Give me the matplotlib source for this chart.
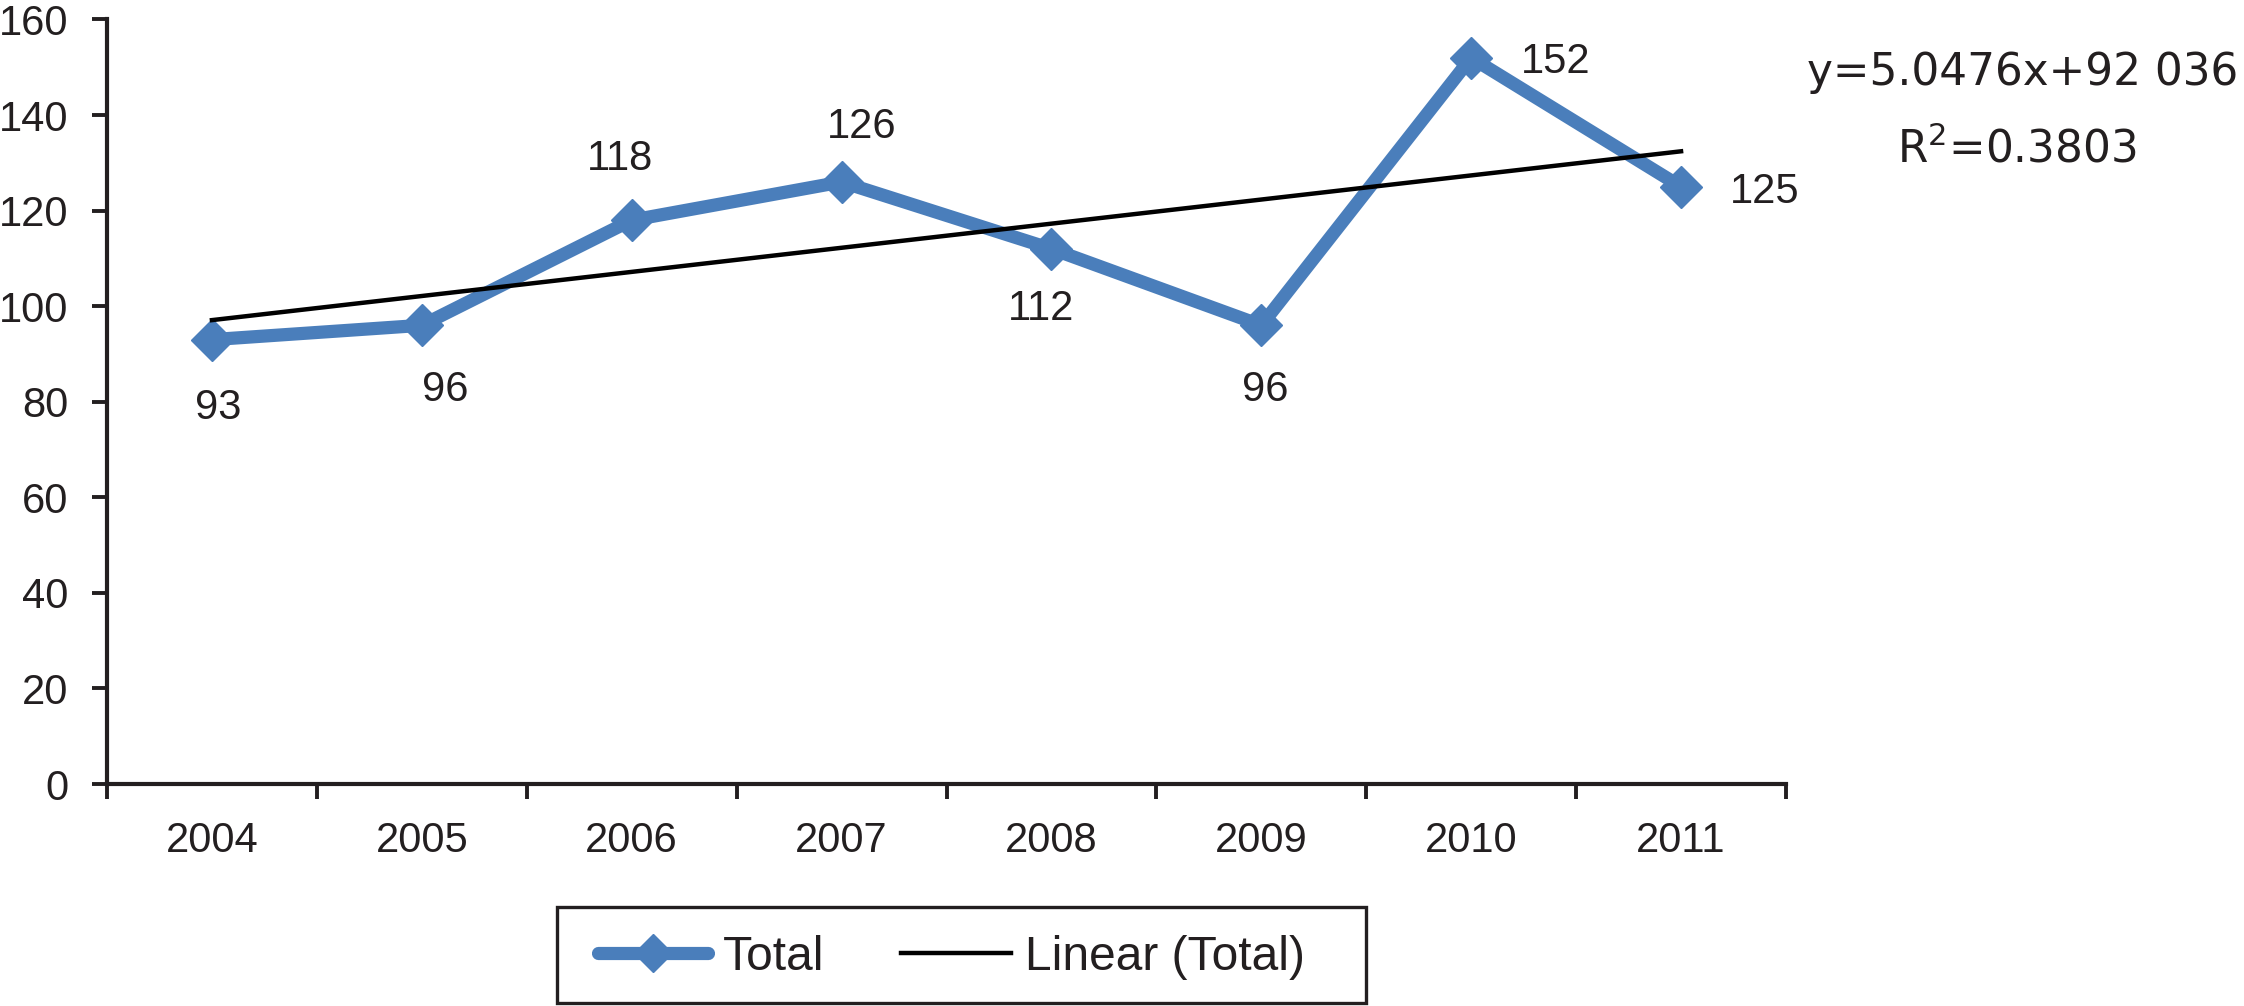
import numpy as np
import matplotlib
matplotlib.use("Agg")
import matplotlib.pyplot as plt
from matplotlib.patches import Rectangle
from matplotlib.lines import Line2D

# ---------------- data ----------------
years = ["2004", "2005", "2006", "2007", "2008", "2009", "2010", "2011"]
totals = [93, 96, 118, 126, 112, 96, 152, 125]
y_ticks = [0, 20, 40, 60, 80, 100, 120, 140, 160]
series_label = "Total"
trend_label = "Linear (Total)"
equation_lines = ["y=5.0476x+92 036", r"R$^2$=0.3803"]

# label offsets (pixels, x right / y up) for the data labels
label_offsets_px = [(6, -68), (23, -65), (-12, 61), (20, 55),
                    (-10, -60), (4, -65), (84, -4), (84, -5)]

# ---------------- style ----------------
BLUE = "#4A7EBB"
INK = "#231F20"
plt.rcParams["font.family"] = ["Liberation Sans", "DejaVu Sans"]

W, H, DPI = 2244, 1006, 100
fig = plt.figure(figsize=(W / DPI, H / DPI), dpi=DPI)
ax = fig.add_axes([107 / W, 1 - 784 / H, (1786 - 107) / W, (784 - 19.5) / H])

x = np.arange(len(years))
ax.plot(x, totals, color=BLUE, lw=9.5, marker="D", markersize=21.5,
        solid_joinstyle="miter", zorder=3, label=series_label)

# linear trend fitted on the series (Excel style, x = 1..n)
coef = np.polyfit(x + 1, totals, 1)
trend = np.polyval(coef, x + 1)
ax.plot(x, trend, color="black", lw=3.2, zorder=4, label=trend_label)

# data labels
px2pt = 72 / DPI
for xi, v, (dx, dy) in zip(x, totals, label_offsets_px):
    ax.annotate(str(v), (xi, v), xytext=(dx * px2pt, dy * px2pt),
                textcoords="offset points", ha="center", va="center",
                fontsize=30, color=INK)

# axes
ax.set_xlim(-0.5, len(years) - 0.5)
ax.set_ylim(0, 160)
ax.set_yticks(y_ticks)
ax.set_yticklabels([str(t) for t in y_ticks])
ax.set_xticks(np.arange(-0.5, len(years)), labels=[""] * (len(years) + 1))
ax.set_xticks(x, minor=True)
ax.set_xticklabels(years, minor=True)

for s in ["top", "right"]:
    ax.spines[s].set_visible(False)
for s in ["left", "bottom"]:
    ax.spines[s].set_linewidth(3.0)
    ax.spines[s].set_color(INK)

ax.tick_params(axis="both", which="major", direction="out", length=11,
               width=2.8, color=INK, labelcolor=INK, labelsize=30)
ax.tick_params(axis="y", which="major", pad=17)
ax.tick_params(axis="x", which="minor", length=0, pad=27,
               labelsize=30, labelcolor=INK)

# equation text
fig.text(2023 / W, 1 - 73 / H, equation_lines[0], ha="center", va="center",
         fontsize=31.5, color=INK, family="DejaVu Sans")
fig.text(2017 / W, 1 - 149 / H, equation_lines[1], ha="center", va="center",
         fontsize=31.5, color=INK, family="DejaVu Sans")

# legend
handles = [Line2D([], [], color=BLUE, lw=9.5, marker="D", markersize=19,
                  solid_capstyle="round"),
           Line2D([], [], color="black", lw=3.2)]
leg = fig.legend(handles, [series_label, trend_label], loc="center left",
                 bbox_to_anchor=(598 / W, 1 - 957 / H), ncol=2,
                 frameon=False, fontsize=34.5, handlelength=2.3,
                 handletextpad=0.3, columnspacing=1.6, borderpad=0,
                 borderaxespad=0, labelcolor=INK)
fig.patches.append(Rectangle((557 / W, 1 - 1003 / H), 809 / W, 96 / H,
                             transform=fig.transFigure, fill=False,
                             lw=2.4, ec=INK))

fig.savefig("out.png", dpi=DPI)
